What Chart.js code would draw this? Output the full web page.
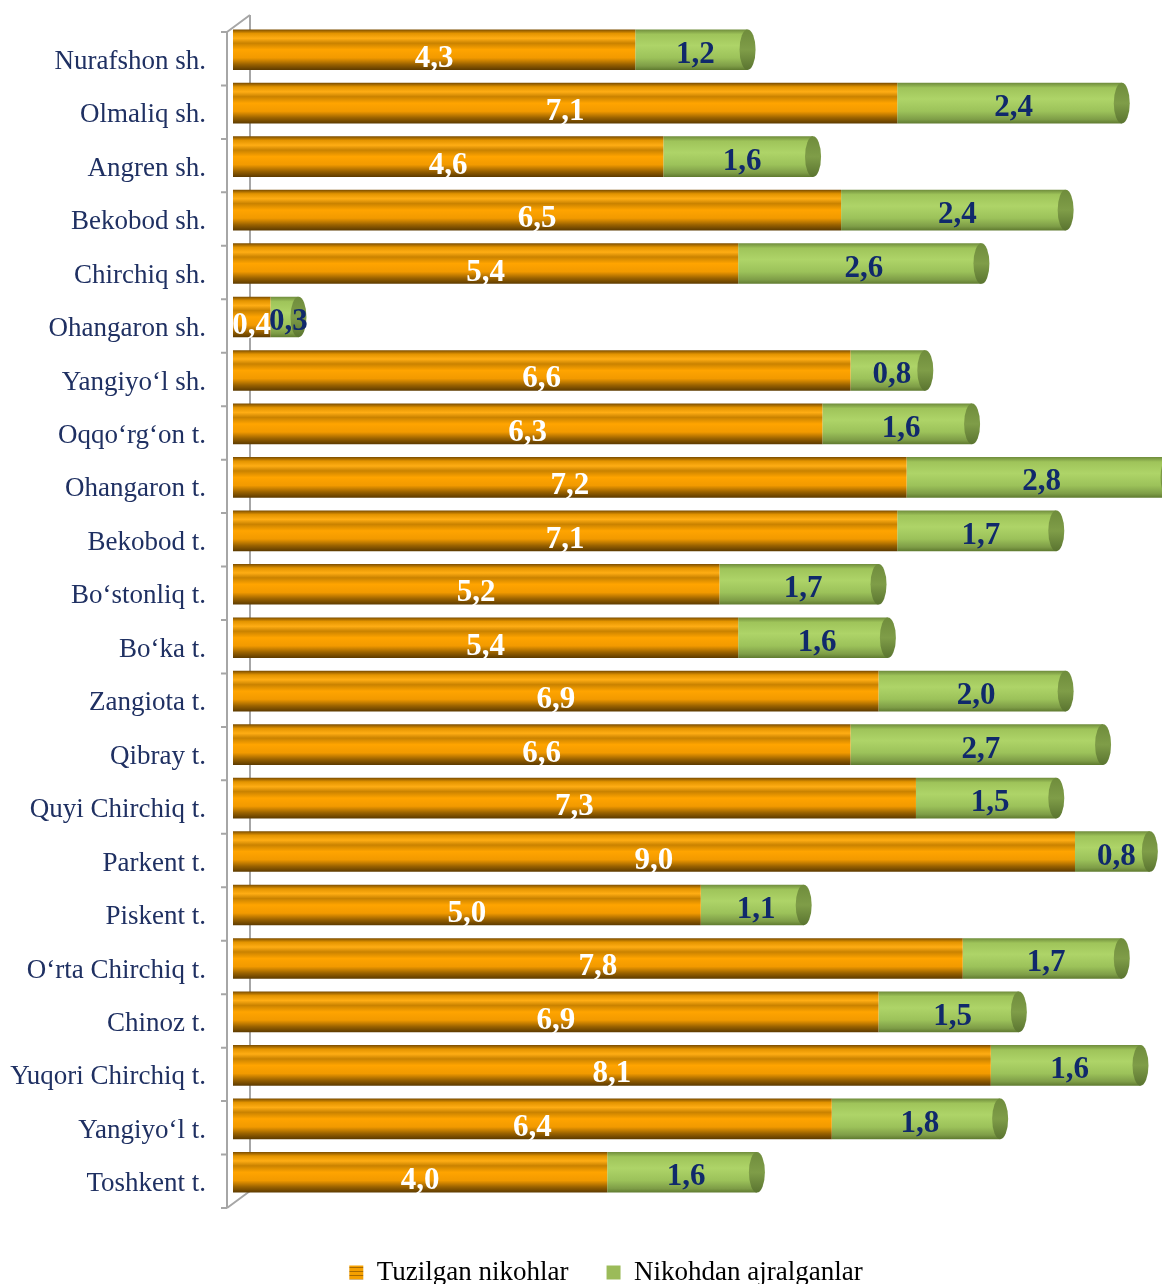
<!DOCTYPE html>
<html lang="uz">
<head>
<meta charset="utf-8">
<title>Nikohlar</title>
<script src="https://cdn.jsdelivr.net/npm/chart.js@4.4.1/dist/chart.umd.min.js"></script>
<style>
  html, body { margin: 0; padding: 0; background: #fff; }
</style>
</head>
<body>
<canvas id="chart" width="1162" height="1284"></canvas>

<script>
// hududlar
var regions = [
  'Nurafshon sh.', 'Olmaliq sh.', 'Angren sh.', 'Bekobod sh.', 'Chirchiq sh.',
  'Ohangaron sh.', 'Yangiyo\u2018l sh.', 'Oqqo\u2018rg\u2018on t.', 'Ohangaron t.', 'Bekobod t.',
  'Bo\u2018stonliq t.', 'Bo\u2018ka t.', 'Zangiota t.', 'Qibray t.', 'Quyi Chirchiq t.',
  'Parkent t.', 'Piskent t.', 'O\u2018rta Chirchiq t.', 'Chinoz t.', 'Yuqori Chirchiq t.',
  'Yangiyo\u2018l t.', 'Toshkent t.'
];
var marriages = [4.3, 7.1, 4.6, 6.5, 5.4, 0.4, 6.6, 6.3, 7.2, 7.1, 5.2, 5.4, 6.9, 6.6, 7.3, 9.0, 5.0, 7.8, 6.9, 8.1, 6.4, 4.0];
var divorces  = [1.2, 2.4, 1.6, 2.4, 2.6, 0.3, 0.8, 1.6, 2.8, 1.7, 1.7, 1.6, 2.0, 2.7, 1.5, 0.8, 1.1, 1.7, 1.5, 1.6, 1.8, 1.6];
var seriesNames = ['Tuzilgan nikohlar', 'Nikohdan ajralganlar'];

var FONT = '"Liberation Serif", "Times New Roman", serif';
var BAR_PCT = 0.76;

var orangeStops = [[0, '#7a4c00'], [0.1, '#e39400'], [0.22, '#ffad14'], [0.34, '#c98200'], [0.5, '#ffa400'], [0.7, '#f29a00'], [0.86, '#9a6200'], [1, '#5c3a00']];
var greenStops  = [[0, '#6f8c3c'], [0.12, '#9fc45a'], [0.4, '#aed468'], [0.7, '#9cc25a'], [0.9, '#7e9d47'], [1, '#5f7a30']];

function cylinder(stops) {
  return function (ctx) {
    var chart = ctx.chart;
    var y = chart.scales.y;
    if (!chart.chartArea || !y || ctx.dataIndex === undefined) return stops[3][1];
    var c = y.getPixelForValue(ctx.dataIndex);
    var h = (y.getPixelForValue(1) - y.getPixelForValue(0)) * BAR_PCT;
    var g = chart.ctx.createLinearGradient(0, c - h / 2, 0, c + h / 2);
    stops.forEach(function (s) { g.addColorStop(s[0], s[1]); });
    return g;
  };
}

// chiziqli legend belgisi
function stripePattern() {
  var c = document.createElement('canvas');
  c.width = 4; c.height = 4;
  var x = c.getContext('2d');
  x.fillStyle = '#f5a000'; x.fillRect(0, 0, 4, 4);
  x.fillStyle = '#a86a00'; x.fillRect(0, 3, 4, 1);
  return x.createPattern(c, 'repeat');
}

// 3D o'q devori
var axisWall = {
  id: 'axisWall',
  afterLayout: function (chart) {
    // legend biroz o'ngga
    if (chart.legend) chart.legend.left = 50;
  },
  beforeDatasetsDraw: function (chart) {
    var ctx = chart.ctx, a = chart.chartArea, y = chart.scales.y;
    var pitch = y.getPixelForValue(1) - y.getPixelForValue(0);
    var fx = a.left - 6, bx = a.left + 17, dy = 9;
    ctx.save();
    ctx.strokeStyle = '#a6a6a6';
    ctx.lineWidth = 2;
    ctx.beginPath();
    ctx.moveTo(fx, a.top + dy); ctx.lineTo(fx, a.bottom + dy);
    ctx.moveTo(bx, a.top - 8); ctx.lineTo(bx, a.bottom - 8);
    ctx.moveTo(fx, a.top + dy); ctx.lineTo(bx, a.top - 8);
    ctx.moveTo(fx, a.bottom + dy); ctx.lineTo(bx, a.bottom - 8);
    for (var i = 0; i <= regions.length; i++) {
      var ty = y.getPixelForValue(i) - pitch / 2 + dy;
      ctx.moveTo(fx - 6, ty); ctx.lineTo(fx, ty);
    }
    ctx.stroke();
    ctx.restore();
  }
};

// silindr uchlari va qiymatlar
var capsAndValues = {
  id: 'capsAndValues',
  afterDatasetsDraw: function (chart) {
    var ctx = chart.ctx;
    var m0 = chart.getDatasetMeta(0), m1 = chart.getDatasetMeta(1);
    ctx.save();
    m1.data.forEach(function (el, i) {
      var h = el.height, rx = 8;
      var g = ctx.createLinearGradient(0, el.y - h / 2, 0, el.y + h / 2);
      g.addColorStop(0, '#6f8c3c'); g.addColorStop(0.5, '#7f9d48'); g.addColorStop(1, '#5a7430');
      ctx.fillStyle = g;
      ctx.beginPath();
      ctx.ellipse(el.x, el.y, rx, h / 2, 0, 0, Math.PI * 2);
      ctx.fill();
    });
    ctx.textAlign = 'center';
    ctx.textBaseline = 'middle';
    ctx.font = 'bold 31px ' + FONT;
    m0.data.forEach(function (el, i) {
      ctx.fillStyle = '#ffffff';
      ctx.fillText(marriages[i].toFixed(1).replace('.', ','), (el.x + el.base) / 2, el.y + 9);
    });
    m1.data.forEach(function (el, i) {
      ctx.fillStyle = '#10296b';
      ctx.fillText(divorces[i].toFixed(1).replace('.', ','), (el.x + el.base) / 2 + 4, el.y + 5);
    });
    ctx.restore();
  }
};

var chart = new Chart(document.getElementById('chart'), {
  type: 'bar',
  data: {
    labels: regions,
    datasets: [
      { label: seriesNames[0], data: marriages, backgroundColor: cylinder(orangeStops) },
      { label: seriesNames[1], data: divorces, backgroundColor: cylinder(greenStops) }
    ]
  },
  options: {
    indexAxis: 'y',
    responsive: false,
    animation: false,
    devicePixelRatio: 1,
    barPercentage: BAR_PCT,
    categoryPercentage: 1,
    layout: { padding: { left: 10, right: 0, top: 23, bottom: -12 } },
    scales: {
      x: { stacked: true, min: 0, max: 9.93, display: false },
      y: {
        stacked: true,
        grid: { display: false, drawTicks: false },
        border: { display: false },
        ticks: { color: '#1f3062', font: { family: FONT, size: 27 }, padding: 27, labelOffset: 12, autoSkip: false },
        afterFit: function (s) { s.width = 223; s.paddingTop = 0; s.paddingBottom = 0; }
      }
    },
    plugins: {
      tooltip: { enabled: false },
      legend: {
        position: 'bottom',
        title: { display: true, text: '', font: { size: 10, lineHeight: 1 }, padding: { top: 6, bottom: 6 } },
        labels: {
          color: '#000',
          font: { family: FONT, size: 27 },
          boxWidth: 14, boxHeight: 14,
          padding: 38,
          generateLabels: function (ch) {
            return [
              { text: seriesNames[0], fillStyle: stripePattern(), strokeStyle: 'rgba(0,0,0,0)', lineWidth: 0, fontColor: '#000', hidden: false, datasetIndex: 0 },
              { text: seriesNames[1], fillStyle: '#9bbb59', strokeStyle: 'rgba(0,0,0,0)', lineWidth: 0, fontColor: '#000', hidden: false, datasetIndex: 1 }
            ];
          }
        }
      }
    }
  },
  plugins: [axisWall, capsAndValues]
});
</script>
</body>
</html>
